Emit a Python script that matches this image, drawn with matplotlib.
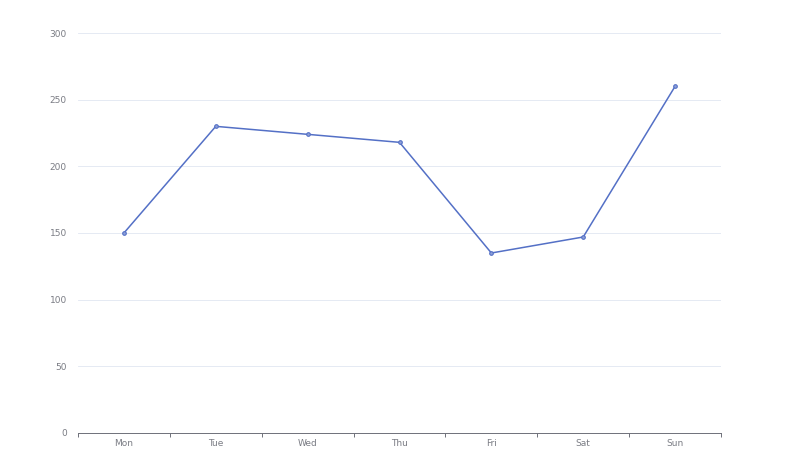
import numpy as np
import matplotlib.pyplot as plt
from matplotlib.ticker import FixedLocator

days = ['Mon', 'Tue', 'Wed', 'Thu', 'Fri', 'Sat', 'Sun']
values = [150, 230, 224, 218, 135, 147, 260]
yticks = [0, 50, 100, 150, 200, 250, 300]

line_color = '#5470c6'
axis_color = '#6e7079'
grid_color = '#e0e6f1'

fig = plt.figure(figsize=(8, 4.69), dpi=100)
ax = fig.add_axes([0.0975, 0.0768, 0.80375, 0.8528])

x = np.arange(len(days))
ax.plot(x, values, color=line_color, linewidth=1.1, marker='o', markersize=2.6,
        markerfacecolor='#8fa0d8', markeredgecolor=line_color, markeredgewidth=0.8, zorder=3)

ax.set_xlim(-0.5, len(days) - 0.5)
ax.set_ylim(0, 300)

ax.set_xticks(x)
ax.set_xticklabels(days)
ax.xaxis.set_minor_locator(FixedLocator(np.arange(-0.5, len(days), 1)))
ax.tick_params(axis='x', which='major', length=0, pad=4, labelsize=6.5, labelcolor='#7a7c84')
ax.tick_params(axis='x', which='minor', length=3, color=axis_color, width=0.7)

ax.set_yticks(yticks)
ax.tick_params(axis='y', length=0, pad=8, labelsize=6.5, labelcolor='#7a7c84')
ax.yaxis.grid(True, color=grid_color, linewidth=0.6)
ax.set_axisbelow(True)

for s in ['top', 'right', 'left']:
    ax.spines[s].set_visible(False)
ax.spines['bottom'].set_color(axis_color)
ax.spines['bottom'].set_linewidth(0.7)

fig.savefig('out.png', dpi=100)
